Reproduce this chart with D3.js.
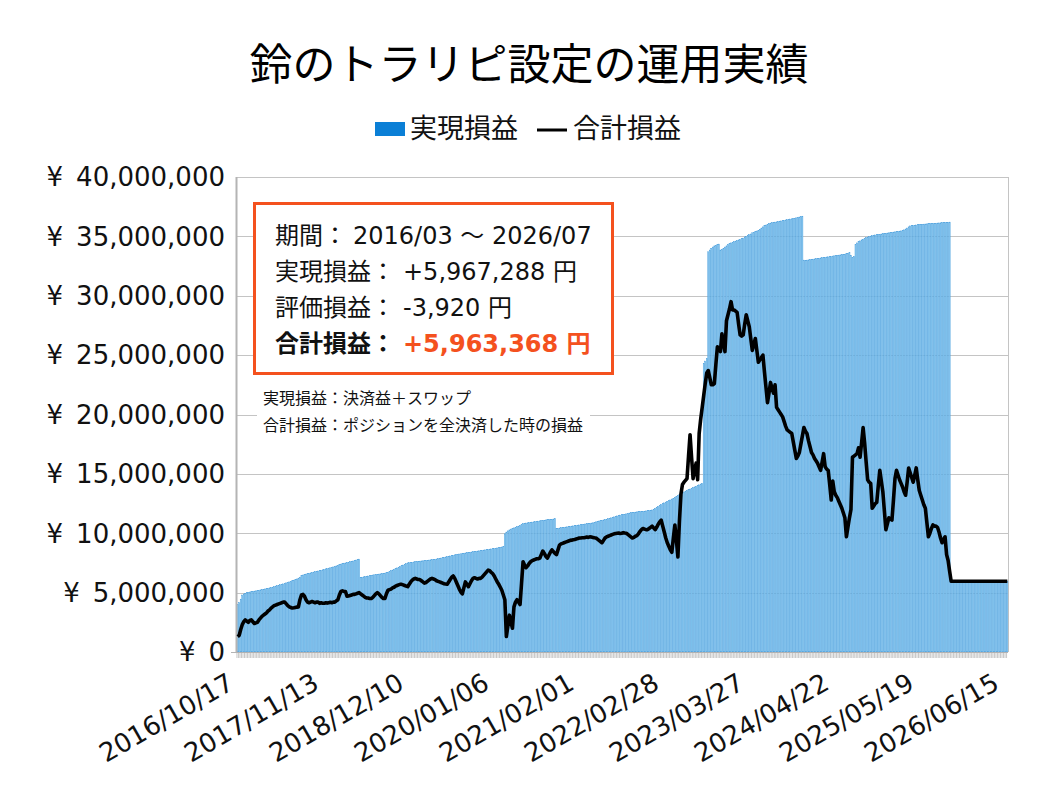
<!DOCTYPE html>
<html lang="ja">
<head>
<meta charset="UTF-8">
<title>鈴のトラリピ設定の運用実績</title>
<script src="https://d3js.org/d3.v7.min.js"></script>
<style>
  body { margin: 0; background: #fff; }
  svg { display: block; }
  .jp { font-family: "Noto Sans CJK JP", sans-serif; }
  .num { font-family: "DejaVu Sans", "Noto Sans CJK JP", sans-serif; }
</style>
</head>
<body>
<div id="chart"></div>
<script>
// 週次データ（単位：百万円）、2016/10/17 から毎週月曜
const startWeek = new Date(2016, 9, 17);

// 実現損益
const realized = [
  3.98,4.15,4.45,4.80,4.88,4.95,5.00,5.02,5.05,5.08,
  5.10,5.13,5.15,5.18,5.20,5.23,5.26,5.28,5.31,5.34,
  5.37,5.40,5.43,5.46,5.50,5.55,5.58,5.62,5.66,5.70,
  5.74,5.78,5.82,5.86,5.90,5.95,6.00,6.05,6.10,6.15,
  6.22,6.30,6.42,6.48,6.52,6.56,6.60,6.63,6.66,6.70,
  6.73,6.76,6.79,6.82,6.85,6.88,6.92,6.96,7.00,7.03,
  7.06,7.09,7.12,7.16,7.20,7.25,7.30,7.35,7.40,7.45,
  7.48,7.50,7.53,7.56,7.60,7.63,7.66,7.70,7.74,7.78,
  7.82,6.28,6.30,6.33,6.35,6.38,6.40,6.43,6.46,6.48,
  6.50,6.52,6.54,6.56,6.58,6.60,6.62,6.64,6.68,6.72,
  6.78,6.84,6.90,6.96,7.02,7.08,7.14,7.20,7.26,7.32,
  7.38,7.44,7.50,7.52,7.54,7.56,7.58,7.60,7.62,7.64,
  7.65,7.67,7.68,7.70,7.71,7.73,7.74,7.76,7.78,7.79,
  7.80,7.83,7.86,7.88,7.91,7.94,7.97,8.00,8.03,8.06,
  8.09,8.12,8.15,8.18,8.20,8.22,8.25,8.27,8.30,8.32,
  8.34,8.36,8.38,8.40,8.42,8.44,8.46,8.48,8.50,8.52,
  8.54,8.56,8.58,8.60,8.62,8.64,8.66,8.68,8.70,8.72,
  8.74,8.76,8.78,8.80,8.84,8.90,9.95,10.10,10.20,10.28,
  10.35,10.40,10.45,10.50,10.55,10.60,10.66,10.72,10.80,10.84,
  10.86,10.88,10.90,10.92,10.94,10.96,10.98,11.00,11.02,11.04,
  11.06,11.08,11.10,11.12,11.14,11.15,11.16,11.18,11.20,11.22,
  10.42,10.40,10.44,10.46,10.48,10.50,10.52,10.54,10.56,10.58,
  10.60,10.62,10.64,10.66,10.68,10.70,10.72,10.74,10.76,10.78,
  10.80,10.82,10.84,10.86,10.88,10.92,10.96,11.00,11.03,11.06,
  11.09,11.12,11.15,11.18,11.22,11.26,11.30,11.34,11.38,11.42,
  11.46,11.50,11.53,11.56,11.58,11.60,11.63,11.66,11.70,11.73,
  11.75,11.77,11.78,11.80,11.81,11.82,11.84,11.85,11.86,11.88,
  11.90,11.92,11.94,11.96,12.02,12.10,12.18,12.26,12.34,12.42,
  12.50,12.56,12.62,12.68,12.74,12.80,12.88,12.95,13.02,13.10,
  13.18,13.25,13.32,13.40,13.48,13.55,13.60,13.66,13.72,13.78,
  13.84,13.90,13.96,14.02,14.08,14.14,14.20,24.30,24.50,24.70,
  33.70,33.85,34.00,34.10,34.20,34.25,34.30,34.35,33.85,33.90,
  34.00,34.10,34.20,34.30,34.40,34.45,34.50,34.55,34.60,34.65,
  34.70,34.75,34.80,34.85,34.95,35.00,35.10,35.15,35.20,35.30,
  35.35,35.40,35.45,35.50,35.60,35.70,35.80,35.90,35.95,36.00,
  36.10,36.12,36.15,36.18,36.20,36.22,36.25,36.28,36.30,36.32,
  36.35,36.38,36.40,36.43,36.46,36.48,36.50,36.53,36.56,36.60,
  36.63,36.66,36.70,33.00,32.98,33.00,33.02,33.04,33.06,33.08,
  33.10,33.12,33.14,33.16,33.18,33.20,33.22,33.24,33.26,33.28,
  33.30,33.32,33.34,33.36,33.38,33.40,33.42,33.44,33.46,33.48,
  33.50,33.54,33.58,33.62,33.40,33.20,33.30,34.30,34.45,34.55,
  34.62,34.70,34.76,34.82,34.90,34.94,34.98,35.02,35.06,35.10,
  35.12,35.14,35.16,35.18,35.20,35.22,35.24,35.26,35.28,35.30,
  35.32,35.34,35.36,35.38,35.40,35.42,35.44,35.46,35.50,35.55,
  35.62,35.70,35.80,35.88,35.90,35.92,35.94,35.96,35.98,36.00,
  36.01,36.02,36.03,36.04,36.05,36.06,36.07,36.08,36.09,36.10,
  36.11,36.12,36.13,36.14,36.15,36.16,36.17,36.18,36.19,36.20,
  5.967,5.967,5.967,5.967,5.967,5.967,5.967,5.967,5.967,5.967,
  5.967,5.967,5.967,5.967,5.967,5.967,5.967,5.967,5.967,5.967,
  5.967,5.967,5.967,5.967,5.967,5.967,5.967,5.967,5.967,5.967,
  5.967,5.967,5.967,5.967,5.967,5.967,5.967,5.967
];

// 合計損益
const total = [
  1.30,1.40,1.90,2.30,2.55,2.70,2.60,2.50,2.65,2.70,
  2.55,2.40,2.45,2.50,2.70,2.85,3.00,3.10,3.20,3.30,
  3.45,3.55,3.70,3.80,3.90,3.95,4.00,4.05,4.10,4.15,
  4.20,4.20,4.05,3.90,3.80,3.75,3.70,3.72,3.75,3.78,
  3.80,4.40,4.80,4.85,4.70,4.40,4.20,4.15,4.20,4.25,
  4.20,4.15,4.20,4.20,4.10,4.15,4.10,4.10,4.15,4.12,
  4.15,4.18,4.15,4.20,4.20,4.30,4.40,4.80,5.10,5.15,
  5.10,5.10,4.70,4.72,4.75,4.80,4.85,4.85,4.90,4.95,
  5.00,4.90,4.80,4.70,4.60,4.55,4.55,4.50,4.50,4.60,
  4.75,4.90,5.00,4.90,4.75,4.60,4.50,4.50,4.90,5.20,
  5.25,5.30,5.40,5.45,5.55,5.60,5.65,5.70,5.70,5.65,
  5.60,5.55,5.50,5.70,5.90,6.05,6.15,6.20,6.15,6.10,
  6.10,6.00,5.90,5.80,5.85,5.95,6.05,6.15,6.20,6.15,
  6.10,6.00,5.95,5.90,5.85,5.80,5.75,5.72,5.70,5.90,
  6.10,6.30,6.40,6.20,5.90,5.60,5.30,5.05,4.90,5.40,
  5.90,5.70,5.50,5.75,6.00,6.20,6.25,6.20,6.15,6.20,
  6.20,6.30,6.45,6.60,6.75,6.90,6.85,6.70,6.60,6.40,
  6.15,5.90,5.70,5.45,5.20,4.80,4.40,1.30,2.20,3.10,
  2.50,2.00,3.80,4.20,4.40,4.20,4.00,5.80,7.60,7.30,
  7.10,7.25,7.45,7.60,7.70,7.75,7.80,7.85,7.85,7.90,
  8.20,8.50,8.30,8.05,7.90,8.15,8.40,8.60,8.45,8.30,
  8.20,8.60,9.00,9.10,9.15,9.20,9.25,9.30,9.35,9.40,
  9.42,9.45,9.48,9.52,9.55,9.60,9.60,9.62,9.62,9.65,
  9.68,9.65,9.70,9.68,9.65,9.62,9.60,9.50,9.40,9.30,
  9.20,9.40,9.60,9.70,9.75,9.80,9.85,9.90,9.95,9.98,
  10.00,10.02,9.98,10.00,10.05,10.02,10.00,9.90,9.80,9.70,
  9.60,9.65,9.75,9.80,9.95,10.15,10.30,10.40,10.35,10.30,
  10.30,10.40,10.50,10.60,10.45,10.30,10.50,10.75,10.95,11.10,
  10.60,10.10,9.60,9.20,8.90,8.60,8.40,9.60,10.70,9.40,
  8.00,11.00,13.30,14.10,14.30,14.45,14.60,16.50,18.30,16.40,
  14.60,15.30,15.90,14.50,18.40,19.60,20.60,21.60,22.60,23.50,
  23.70,23.10,22.50,22.50,22.60,24.20,25.70,25.50,25.30,26.80,
  26.00,25.30,27.90,28.40,28.90,29.50,28.80,28.80,28.70,28.60,
  27.60,26.70,26.60,26.70,27.60,28.40,27.90,27.40,26.40,25.40,
  25.90,26.40,25.40,24.40,24.60,24.80,25.00,23.60,22.30,21.00,
  21.80,22.70,22.20,21.80,22.50,20.60,20.40,20.20,20.00,19.80,
  19.40,19.00,18.70,18.60,18.50,18.40,17.70,17.00,16.30,16.50,
  16.80,17.50,18.20,18.90,18.60,18.40,17.80,17.30,16.80,16.60,
  16.30,16.10,15.90,15.60,15.30,16.00,16.70,15.60,15.40,15.30,
  14.10,12.80,14.40,13.50,13.20,13.00,12.70,12.40,12.10,11.70,
  11.30,9.70,10.50,11.30,12.00,16.40,16.50,16.60,16.70,17.20,
  16.40,17.60,18.90,17.60,16.00,14.50,14.30,14.20,12.10,12.30,
  12.50,12.60,14.00,15.30,14.40,13.50,11.90,10.30,10.80,11.30,
  11.20,11.10,12.80,14.60,15.30,14.90,14.50,14.20,13.90,13.50,
  13.20,14.30,15.50,15.10,14.70,14.30,14.90,15.50,14.50,13.60,
  13.20,12.80,12.40,12.10,10.90,9.70,10.00,10.40,10.70,10.60,
  10.60,10.50,10.10,9.60,9.20,9.50,9.70,8.20,7.70,6.80,
  5.963,5.963,5.963,5.963,5.963,5.963,5.963,5.963,5.963,5.963,
  5.963,5.963,5.963,5.963,5.963,5.963,5.963,5.963,5.963,5.963,
  5.963,5.963,5.963,5.963,5.963,5.963,5.963,5.963,5.963,5.963,
  5.963,5.963,5.963,5.963,5.963,5.963,5.963,5.963
];

const xTickLabels = ["2016/10/17", "2017/11/13", "2018/12/10", "2020/01/06", "2021/02/01",
  "2022/02/28", "2023/03/27", "2024/04/22", "2025/05/19", "2026/06/15"];
const yTicks = [0, 5e6, 10e6, 15e6, 20e6, 25e6, 30e6, 35e6, 40e6];

const titleText = "鈴のトラリピ設定の運用実績";
const seriesNames = ["実現損益", "合計損益"];
const summaryRows = [
  ["期間：", "2016/03 ～ 2026/07"],
  ["実現損益：", "+5,967,288 円"],
  ["評価損益：", "-3,920 円"],
  ["合計損益：", "+5,963,368 円"]
];
const notes = ["実現損益：決済益＋スワップ", "合計損益：ポジションを全決済した時の損益"];

const W = 1058, H = 794;
const plot = { left: 237, right: 1008, top: 177, bottom: 652 };
const fmtDate = d3.timeFormat("%Y/%m/%d");

const weeks = d3.timeMonday.range(startWeek, d3.timeMonday.offset(startWeek, realized.length));
const rows = weeks.map((d, i) => ({
  key: fmtDate(d),
  realized: realized[i] * 1e6,
  total: total[i] * 1e6
}));

const svg = d3.select("#chart").append("svg")
  .attr("width", W).attr("height", H);
svg.append("rect").attr("width", W).attr("height", H).attr("fill", "#fff");

const x = d3.scaleBand()
  .domain(rows.map(d => d.key))
  .range([plot.left, plot.right])
  .paddingInner(0.3)
  .paddingOuter(0.1);
const y = d3.scaleLinear().domain([0, 40e6]).range([plot.bottom, plot.top]);

// グリッド線
svg.append("g").selectAll("line")
  .data(yTicks.filter(v => v > 0))
  .join("line")
  .attr("x1", plot.left).attr("x2", plot.right)
  .attr("y1", d => Math.round(y(d)) + 0.5).attr("y2", d => Math.round(y(d)) + 0.5)
  .attr("stroke", "#c4c4c4").attr("stroke-width", 1);
svg.append("line")
  .attr("x1", plot.right + 0.5).attr("x2", plot.right + 0.5)
  .attr("y1", plot.top).attr("y2", plot.bottom)
  .attr("stroke", "#c4c4c4");

// 実現損益（棒）
svg.append("g").selectAll("rect")
  .data(rows)
  .join("rect")
  .attr("x", d => x(d.key))
  .attr("width", x.bandwidth())
  .attr("y", d => y(d.realized))
  .attr("height", d => y(0) - y(d.realized))
  .attr("fill", "#98d1f4")
  .attr("stroke", "#3f98da")
  .attr("stroke-width", 0.42);

// 軸
svg.append("line")
  .attr("x1", plot.left - 0.5).attr("x2", plot.left - 0.5)
  .attr("y1", plot.top).attr("y2", plot.bottom)
  .attr("stroke", "#b4b4b4").attr("stroke-width", 2);
svg.append("line")
  .attr("x1", plot.left - 6).attr("x2", plot.right)
  .attr("y1", plot.bottom + 0.5).attr("y2", plot.bottom + 0.5)
  .attr("stroke", "#b4b4b4");
svg.append("g").selectAll("line")
  .data(rows)
  .join("line")
  .attr("x1", d => x(d.key) - x.step() * x.paddingInner() / 2)
  .attr("x2", d => x(d.key) - x.step() * x.paddingInner() / 2)
  .attr("y1", plot.bottom).attr("y2", plot.bottom + 6)
  .attr("stroke", "#b0b0b0").attr("stroke-width", 0.7);

// 合計損益（線）
const line = d3.line()
  .x(d => x(d.key) + x.bandwidth() / 2)
  .y(d => y(d.total));
svg.append("path")
  .datum(rows)
  .attr("d", line)
  .attr("fill", "none")
  .attr("stroke", "#000")
  .attr("stroke-width", 3.6)
  .attr("stroke-linejoin", "round");

// Y軸ラベル
svg.append("g").selectAll("text")
  .data(yTicks)
  .join("text")
  .attr("class", "num")
  .attr("x", 225)
  .attr("y", d => y(d))
  .attr("dy", "0.36em")
  .attr("text-anchor", "end")
  .attr("font-size", 26)
  .attr("fill", "#111")
  .text(d => "¥\u2002" + d3.format(",")(d));

// X軸ラベル
svg.append("g").selectAll("text")
  .data(xTickLabels)
  .join("text")
  .attr("class", "num")
  .attr("text-anchor", "end")
  .attr("font-size", 26)
  .attr("fill", "#111")
  .attr("transform", d => `translate(${x(d) + x.bandwidth() / 2 - 2},688) rotate(-30)`)
  .text(d => d);

// タイトル
svg.append("text")
  .attr("class", "jp")
  .attr("x", W / 2).attr("y", 80)
  .attr("text-anchor", "middle")
  .attr("font-size", 43)
  .attr("fill", "#000")
  .text(titleText);

// 凡例
const legend = svg.append("g").attr("class", "jp");
legend.append("rect")
  .attr("x", 375).attr("y", 122).attr("width", 30).attr("height", 14)
  .attr("fill", "#0b7fd6");
legend.append("text")
  .attr("x", 410).attr("y", 138).attr("font-size", 27).attr("fill", "#111")
  .text(seriesNames[0]);
legend.append("line")
  .attr("x1", 537).attr("x2", 567).attr("y1", 130).attr("y2", 130)
  .attr("stroke", "#000").attr("stroke-width", 3);
legend.append("text")
  .attr("x", 573).attr("y", 138).attr("font-size", 27).attr("fill", "#111")
  .text(seriesNames[1]);

// 集計ボックス
svg.append("rect")
  .attr("x", 254.5).attr("y", 203.5).attr("width", 358).attr("height", 170)
  .attr("fill", "#fff")
  .attr("stroke", "#f4511e").attr("stroke-width", 3);
const baselines = [244, 280, 316, 352];
summaryRows.forEach((r, i) => {
  const last = i === summaryRows.length - 1;
  const t = svg.append("text")
    .attr("x", 275).attr("y", baselines[i])
    .attr("font-size", 24)
    .attr("font-weight", last ? "bold" : "normal")
    .attr("fill", "#111");
  t.append("tspan").attr("class", "jp").text(r[0]);
  t.append("tspan").attr("class", "num")
    .attr("x", i === 0 ? 353 : 403)
    .attr("fill", last ? "#f4511e" : "#111")
    .text(r[1]);
});

// 注記
svg.append("rect")
  .attr("x", 257).attr("y", 388).attr("width", 333).attr("height", 50)
  .attr("fill", "#fff");
svg.append("g").selectAll("text")
  .data(notes)
  .join("text")
  .attr("class", "jp")
  .attr("x", 263)
  .attr("y", (d, i) => 404 + i * 27)
  .attr("font-size", 16)
  .attr("fill", "#111")
  .text(d => d);
</script>
</body>
</html>
